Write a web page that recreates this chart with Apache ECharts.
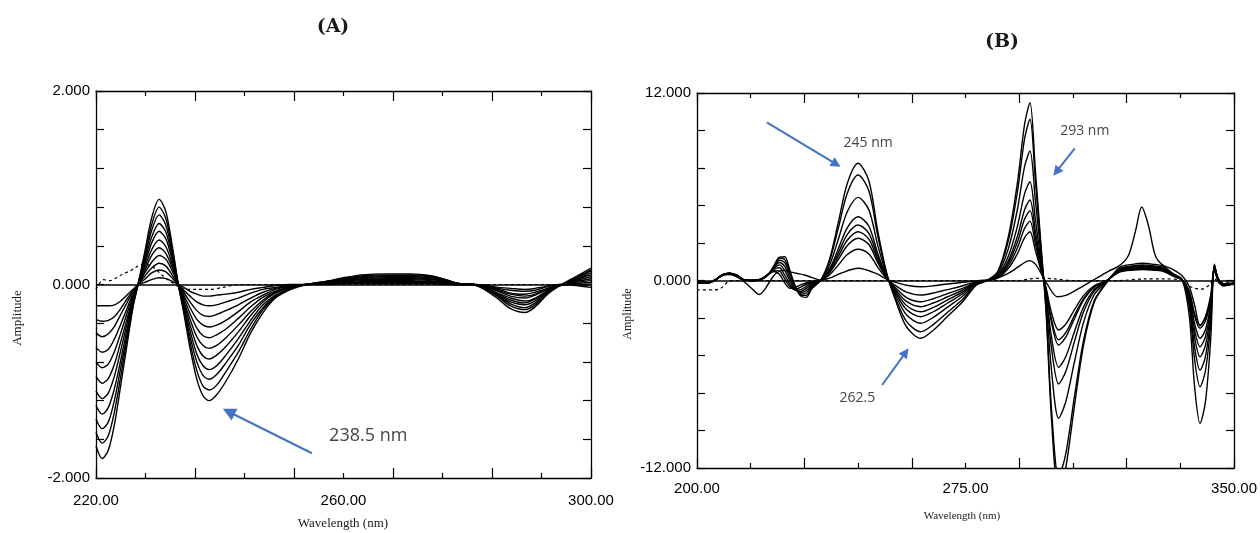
<!DOCTYPE html>
<html>
<head>
<meta charset="utf-8">
<script src="https://cdn.jsdelivr.net/npm/echarts@6/dist/echarts.min.js"></script>
<style>
  html, body { margin: 0; padding: 0; background: #fff; }
  #chart { width: 1260px; height: 533px; }
</style>
</head>
<body>
<div id="chart"></div>
<script>
// ---------------- Panel (A): derivative spectra, 220–300 nm ----------------
const WL_A = [220, 221, 222, 223, 224, 225, 226, 226.8, 227.8, 229, 230.2, 231.3, 232.4, 233.3,
  234.2, 235.2, 236.3, 237.3, 238.3, 239.5, 241, 243, 245, 247, 249, 251.5, 254,
  257, 260, 263, 267, 271, 274, 276.5, 278.5, 281,
  283, 285, 287, 289.3, 291, 293, 295, 297.5, 300];

const A1 = [-0.22, -0.22, -0.22, -0.21, -0.17, -0.11, -0.05, 0, 0.02, 0.05, 0.07, 0.06, 0.03, 0,
  -0.03, -0.07, -0.10, -0.12, -0.12, -0.11, -0.10, -0.08, -0.05, -0.03, -0.01, 0.00, 0,
  0.00, 0.01, 0.01, 0.01, 0.01, 0.01, 0.00, 0.00, 0,
  -0.01, -0.03, -0.04, -0.05, -0.04, -0.02, 0.00, -0.01, -0.03];
const A2 = [-0.36, -0.38, -0.37, -0.33, -0.25, -0.15, -0.06, 0, 0.05, 0.12, 0.15, 0.13, 0.06, 0,
  -0.06, -0.12, -0.18, -0.21, -0.22, -0.21, -0.18, -0.14, -0.09, -0.05, -0.03, -0.01, 0,
  0.01, 0.01, 0.02, 0.02, 0.02, 0.02, 0.01, 0.00, 0,
  -0.01, -0.04, -0.06, -0.07, -0.06, -0.02, 0.00, 0.00, 0.00];
const A3 = [-0.50, -0.54, -0.51, -0.43, -0.31, -0.19, -0.07, 0, 0.08, 0.17, 0.22, 0.19, 0.09, 0,
  -0.08, -0.18, -0.27, -0.32, -0.33, -0.31, -0.27, -0.21, -0.14, -0.08, -0.04, -0.01, 0,
  0.01, 0.02, 0.03, 0.03, 0.03, 0.03, 0.01, 0.00, 0,
  -0.02, -0.05, -0.09, -0.10, -0.08, -0.04, -0.01, 0.01, 0.02];
const A4 = [-0.65, -0.70, -0.67, -0.56, -0.41, -0.25, -0.09, 0, 0.11, 0.23, 0.30, 0.26, 0.13, 0,
  -0.11, -0.24, -0.36, -0.42, -0.44, -0.42, -0.37, -0.28, -0.18, -0.11, -0.05, -0.02, 0,
  0.01, 0.02, 0.04, 0.04, 0.04, 0.03, 0.02, 0.00, 0,
  -0.02, -0.06, -0.10, -0.12, -0.10, -0.04, -0.01, 0.02, 0.04];
const A5 = [-0.80, -0.86, -0.82, -0.69, -0.50, -0.30, -0.11, 0, 0.13, 0.30, 0.38, 0.32, 0.16, 0,
  -0.14, -0.30, -0.45, -0.53, -0.55, -0.52, -0.46, -0.35, -0.23, -0.13, -0.07, -0.02, 0,
  0.02, 0.03, 0.05, 0.05, 0.05, 0.04, 0.02, 0.00, 0,
  -0.03, -0.07, -0.12, -0.14, -0.11, -0.05, -0.01, 0.03, 0.06];
const A6 = [-0.95, -1.02, -0.97, -0.82, -0.59, -0.36, -0.13, 0, 0.16, 0.36, 0.46, 0.39, 0.19, 0,
  -0.17, -0.36, -0.54, -0.63, -0.66, -0.63, -0.55, -0.42, -0.28, -0.16, -0.08, -0.03, 0,
  0.02, 0.04, 0.05, 0.06, 0.06, 0.05, 0.03, 0.00, 0,
  -0.03, -0.09, -0.14, -0.17, -0.14, -0.06, -0.01, 0.04, 0.08];
const A7 = [-1.10, -1.18, -1.12, -0.94, -0.68, -0.41, -0.15, 0, 0.19, 0.43, 0.55, 0.47, 0.23, 0,
  -0.19, -0.42, -0.63, -0.74, -0.77, -0.73, -0.64, -0.49, -0.32, -0.18, -0.09, -0.03, 0,
  0.02, 0.04, 0.06, 0.07, 0.07, 0.06, 0.03, 0.01, 0,
  -0.04, -0.10, -0.16, -0.19, -0.15, -0.07, -0.01, 0.05, 0.10];
const A8 = [-1.25, -1.34, -1.27, -1.07, -0.78, -0.47, -0.17, 0, 0.22, 0.49, 0.63, 0.54, 0.26, 0,
  -0.22, -0.48, -0.72, -0.84, -0.88, -0.84, -0.73, -0.56, -0.37, -0.21, -0.11, -0.04, 0,
  0.02, 0.05, 0.07, 0.08, 0.08, 0.07, 0.04, 0.01, 0,
  -0.04, -0.11, -0.18, -0.21, -0.17, -0.07, -0.01, 0.05, 0.12];
const A9 = [-1.39, -1.49, -1.42, -1.19, -0.86, -0.52, -0.19, 0, 0.25, 0.56, 0.72, 0.61, 0.30, 0,
  -0.25, -0.54, -0.80, -0.94, -0.98, -0.93, -0.81, -0.63, -0.41, -0.24, -0.12, -0.04, 0,
  0.03, 0.05, 0.08, 0.09, 0.09, 0.08, 0.04, 0.01, 0,
  -0.05, -0.12, -0.20, -0.24, -0.19, -0.08, -0.01, 0.06, 0.14];
const A10 = [-1.53, -1.64, -1.56, -1.31, -0.95, -0.57, -0.21, 0, 0.28, 0.62, 0.80, 0.68, 0.34, 0,
  -0.27, -0.60, -0.89, -1.05, -1.09, -1.04, -0.90, -0.70, -0.46, -0.26, -0.13, -0.04, 0,
  0.03, 0.06, 0.09, 0.10, 0.10, 0.09, 0.05, 0.01, 0,
  -0.05, -0.13, -0.22, -0.26, -0.21, -0.09, -0.01, 0.07, 0.15];
const A11 = [-1.67, -1.80, -1.71, -1.44, -1.04, -0.63, -0.23, 0, 0.31, 0.69, 0.88, 0.75, 0.37, 0,
  -0.30, -0.66, -0.98, -1.15, -1.20, -1.14, -1.00, -0.77, -0.50, -0.29, -0.14, -0.05, 0,
  0.03, 0.07, 0.10, 0.11, 0.11, 0.09, 0.05, 0.01, 0,
  -0.06, -0.15, -0.25, -0.29, -0.23, -0.10, -0.01, 0.08, 0.17];

// dashed reference trace in (A)
const A_DASH_WL = [220, 221.2, 222.3, 223.3, 224.4, 225.5, 226.5, 227.5, 228.6, 229.6, 230.6, 231.6, 232.5, 233.3, 234.5, 236.5, 238.5, 240.5, 243, 300];
const A_DASH = [-0.05, 0.05, 0.04, 0.07, 0.11, 0.14, 0.18, 0.21, 0.20, 0.16, 0.10, 0.05, 0.01, -0.02, -0.05, -0.05, -0.05, -0.03, 0, 0];

// axis ranges and labelled ticks of (A)
const A_X_RANGE = [220, 300];
const A_Y_RANGE = [-2, 2];
const A_X_LABELS = [220, 260, 300];
const A_Y_LABELS = [-2, 0, 2];

// ---------------- Panel (B): derivative spectra, 200–350 nm ----------------
const WL_B = [200, 203, 205, 207, 209, 211, 213,
  216, 218, 220, 221.5, 223, 224.5, 226, 227.5, 229, 230.5, 232,
  234.5,
  237, 239.5, 242, 245, 248, 250.5, 253,
  255.5, 258.5, 262.5, 266, 270, 274, 278,
  281, 284, 287, 289.5, 291.5, 293, 294.5, 296,
  297.5, 299, 301, 303, 305.5, 308, 311, 314,
  318, 322, 324.5, 327, 330, 333, 335.5,
  337.5, 339, 340.5, 342, 343.5,
  344.5, 345.5, 347, 350];

const B1 = [-0.15, -0.15, 0.00, 0.35, 0.45, 0.35, 0.05,
  0, 0.12, 0.42, 0.58, 0.40, -0.15, -0.50, -0.42, -0.28, -0.16, -0.07,
  0,
  0.36, 1.00, 1.66, 2.00, 1.70, 0.84, 0.12,
  -0.33, -0.74, -0.93, -0.80, -0.58, -0.35, -0.07,
  0, 0.16, 0.78, 1.72, 2.75, 3.12, 1.93, 0.69,
  -0.48, -2.06, -3.17, -2.79, -1.84, -0.95, -0.32, -0.06,
  0.53, 0.67, 0.70, 0.67, 0.60, 0.28, 0.04,
  -0.71, -2.14, -2.85, -2.42, -1.14,
  0.6, 0.1, -0.2, -0.15];
const B2 = [-0.12, -0.16, 0.02, 0.33, 0.44, 0.36, 0.06,
  0, 0.11, 0.42, 0.65, 0.62, 0.10, -0.40, -0.58, -0.42, -0.25, -0.10,
  0,
  0.49, 1.35, 2.24, 2.70, 2.30, 1.13, 0.16,
  -0.48, -1.09, -1.36, -1.17, -0.84, -0.52, -0.11,
  0, 0.19, 0.95, 2.09, 3.34, 3.80, 2.36, 0.84,
  -0.57, -2.47, -3.80, -3.34, -2.20, -1.14, -0.38, -0.08,
  0.56, 0.71, 0.75, 0.71, 0.64, 0.30, 0.04,
  -0.77, -2.30, -3.06, -2.60, -1.22,
  0.7, 0.1, -0.3, -0.2];
const B3 = [-0.15, -0.14, 0.00, 0.36, 0.46, 0.34, 0.04,
  0, 0.10, 0.42, 0.72, 0.82, 0.35, -0.25, -0.62, -0.58, -0.38, -0.15,
  0,
  0.56, 1.56, 2.59, 3.12, 2.65, 1.31, 0.19,
  -0.59, -1.34, -1.68, -1.44, -1.04, -0.64, -0.13,
  0, 0.22, 1.12, 2.46, 3.93, 4.47, 2.77, 0.98,
  -0.62, -2.68, -4.13, -3.63, -2.40, -1.24, -0.41, -0.08,
  0.60, 0.76, 0.80, 0.76, 0.68, 0.32, 0.04,
  -0.93, -2.78, -3.70, -3.15, -1.48,
  0.8, 0.15, -0.25, -0.2];
const B4 = [-0.14, -0.15, 0.01, 0.34, 0.45, 0.35, 0.05,
  0, 0.09, 0.41, 0.78, 1.00, 0.65, -0.05, -0.60, -0.70, -0.50, -0.22,
  0,
  0.64, 1.78, 2.95, 3.55, 3.02, 1.49, 0.21,
  -0.70, -1.60, -2.00, -1.72, -1.24, -0.76, -0.16,
  0, 0.26, 1.29, 2.83, 4.53, 5.15, 3.19, 1.13,
  -0.83, -3.61, -5.55, -4.88, -3.22, -1.67, -0.56, -0.11,
  0.64, 0.81, 0.85, 0.81, 0.72, 0.34, 0.04,
  -1.06, -3.18, -4.24, -3.60, -1.70,
  0.85, 0.1, -0.3, -0.2];
const B5 = [-0.16, -0.15, 0.00, 0.35, 0.46, 0.35, 0.05,
  0, 0.08, 0.41, 0.82, 1.15, 0.90, 0.15, -0.50, -0.78, -0.65, -0.30,
  0,
  0.73, 2.04, 3.39, 4.08, 3.47, 1.71, 0.24,
  -0.81, -1.86, -2.32, -2.00, -1.44, -0.88, -0.19,
  0, 0.32, 1.58, 3.48, 5.56, 6.32, 3.92, 1.39,
  -0.99, -4.30, -6.62, -5.83, -3.84, -1.99, -0.66, -0.13,
  0.68, 0.86, 0.90, 0.86, 0.77, 0.36, 0.05,
  -1.22, -3.66, -4.88, -4.15, -1.95,
  0.9, 0.15, -0.3, -0.25];
const B6 = [-0.14, -0.16, 0.01, 0.36, 0.45, 0.34, 0.04,
  0, 0.07, 0.41, 0.86, 1.30, 1.15, 0.35, -0.45, -0.88, -0.80, -0.38,
  0,
  0.96, 2.66, 4.42, 5.32, 4.52, 2.23, 0.32,
  -0.96, -2.19, -2.74, -2.36, -1.70, -1.04, -0.22,
  0, 0.41, 2.07, 4.56, 7.30, 8.29, 5.14, 1.82,
  -1.32, -5.73, -8.82, -7.76, -5.12, -2.65, -0.88, -0.18,
  0.71, 0.90, 0.95, 0.90, 0.81, 0.38, 0.05,
  -1.43, -4.30, -5.73, -4.87, -2.29,
  0.95, 0.1, -0.35, -0.2];
const B7 = [-0.15, -0.14, 0.00, 0.35, 0.45, 0.36, 0.05,
  0, 0.06, 0.40, 0.90, 1.42, 1.35, 0.50, -0.42, -0.95, -0.95, -0.48,
  0,
  1.22, 3.38, 5.60, 6.75, 5.74, 2.84, 0.41,
  -1.15, -2.62, -3.28, -2.82, -2.03, -1.25, -0.26,
  0, 0.52, 2.58, 5.68, 9.08, 10.32, 6.40, 2.27,
  -1.89, -8.19, -12.6, -11.09, -7.31, -3.78, -1.26, -0.25,
  0.75, 0.95, 1.00, 0.95, 0.85, 0.40, 0.05,
  -1.70, -5.10, -6.80, -5.78, -2.72,
  1.0, 0.15, -0.3, -0.25];
const B8 = [-0.15, -0.15, 0.01, 0.35, 0.46, 0.35, 0.05,
  0, 0.05, 0.40, 0.95, 1.50, 1.52, 0.60, -0.40, -1.00, -1.08, -0.55,
  0,
  1.35, 3.75, 6.23, 7.50, 6.38, 3.15, 0.45,
  -1.30, -2.96, -3.70, -3.18, -2.29, -1.41, -0.30,
  0, 0.57, 2.85, 6.26, 10.01, 11.38, 7.06, 2.50,
  -2.04, -8.84, -13.6, -11.97, -7.89, -4.08, -1.36, -0.27,
  0.83, 1.05, 1.10, 1.05, 0.94, 0.44, 0.06,
  -2.29, -6.86, -9.14, -7.77, -3.66,
  1.05, 0.1, -0.3, -0.2];

// separate trace in (B) with its own band near 324 nm
const B_ALT_WL = [200, 203, 205, 207, 209, 211, 213, 215, 217.4, 219,
  220.5, 222, 224, 226, 228, 230, 232, 234.5, 237, 240,
  245, 250, 253.5, 256, 259, 262.5, 266, 270, 275, 279,
  282, 285, 288, 290.5, 292.8, 294.5, 296.5, 298, 300.6, 303,
  306, 309, 312, 315, 318, 320.5, 322.5, 324.2, 326, 328,
  330, 333, 335.5, 337.5, 339, 340.5, 342, 343.5, 344.5, 346,
  350];
const B_ALT = [-0.1, -0.1, 0.05, 0.3, 0.38, 0.25, -0.05, -0.45, -0.90, -0.55,
  0.0, 0.45, 0.65, 0.55, 0.45, 0.35, 0.2, 0.02, 0.15, 0.45,
  0.78, 0.45, 0.02, -0.15, -0.32, -0.40, -0.34, -0.22, -0.1, 0,
  0.05, 0.25, 0.6, 1.0, 1.27, 1.05, 0.3, -0.3, -1.04, -0.95,
  -0.6, -0.2, 0.2, 0.6, 0.95, 1.6, 3.2, 4.7, 3.6, 1.6,
  1.0, 0.7, 0.3, -0.4, -1.6, -2.9, -2.3, -0.9, 0.8, -0.2,
  -0.2];

// dashed reference trace in (B)
const B_DASH_WL = [200, 205, 207, 208.5, 210, 290, 293, 297, 300, 305, 318, 325, 330, 335, 337, 339, 341, 343, 344.5, 346, 350];
const B_DASH = [-0.6, -0.6, -0.45, -0.1, 0, 0, 0.1, 0.15, 0.1, 0, 0, 0.1, 0.1, 0.05, -0.3, -0.5, -0.55, -0.3, 0.1, -0.1, -0.1];

const B_X_RANGE = [200, 350];
const B_Y_RANGE = [-12, 12];
const B_X_LABELS = [200, 275, 350];
const B_Y_LABELS = [-12, 0, 12];

// ---------------- chart construction ----------------
const INK = '#000';
const LABEL_FONT = { fontFamily: '"Liberation Sans", Arial, sans-serif', fontSize: 15, color: '#000' };

function pairs(xs, ys) { return xs.map((x, i) => [x, ys[i]]); }
function near(v, list) { return list.some(t => Math.abs(t - v) < 1e-6); }

// x axes of one panel: framed bottom axis, mirrored top axis, label-only axis
function xAxesFor(grid, range, major, labelStep, labels, margin) {
  const frame = (pos) => ({
    gridIndex: grid, type: 'value', position: pos, min: range[0], max: range[1], interval: major,
    axisLine: { show: true, onZero: false, lineStyle: { color: INK, width: 1.3 } },
    axisTick: { show: true, inside: true, length: 10, lineStyle: { color: INK, width: 1.2 } },
    minorTick: { show: true, splitNumber: 2, length: 5, lineStyle: { color: INK, width: 1.2 } },
    axisLabel: { show: false }, splitLine: { show: false }
  });
  return [frame('bottom'), frame('top'), {
    gridIndex: grid, type: 'value', position: 'bottom', min: range[0], max: range[1], interval: labelStep,
    axisLine: { show: false }, axisTick: { show: false }, splitLine: { show: false },
    axisLabel: Object.assign({ show: true, margin: margin,
      formatter: v => near(v, labels) ? v.toFixed(2) : '' }, LABEL_FONT)
  }];
}

function yAxesFor(grid, range, step, labels) {
  const base = (pos, showLabel) => ({
    gridIndex: grid, type: 'value', position: pos, min: range[0], max: range[1], interval: step,
    axisLine: { show: true, onZero: false, lineStyle: { color: INK, width: 1.3 } },
    axisTick: { show: true, inside: true, length: 8, lineStyle: { color: INK, width: 1.2 } },
    splitLine: { show: false },
    axisLabel: Object.assign({ show: showLabel, margin: 6,
      formatter: v => near(v, labels) ? (Math.abs(v) < 1e-9 ? 0 : v).toFixed(3) : '' }, LABEL_FONT)
  });
  return [base('left', true), base('right', false)];
}

function curve(xIdx, yIdx, xs, ys, extra) {
  return Object.assign({
    type: 'line', xAxisIndex: xIdx, yAxisIndex: yIdx, data: pairs(xs, ys),
    showSymbol: false, symbol: 'none', smooth: 0.3, clip: true, silent: true,
    lineStyle: { color: INK, width: 1.4 }, z: 3
  }, extra || {});
}

const zeroLine = {
  silent: true, symbol: 'none', label: { show: false },
  lineStyle: { color: INK, width: 1.6, type: 'solid' }, data: [{ yAxis: 0 }]
};

const seriesA = [A1, A2, A3, A4, A5, A6, A7, A8, A9, A10, A11].map(v => curve(0, 0, WL_A, v));
seriesA.push(curve(0, 0, A_DASH_WL, A_DASH, { lineStyle: { color: INK, width: 1.2, type: [3, 3] } }));
seriesA[0].markLine = zeroLine;

const seriesB = [B1, B2, B3, B4, B5, B6, B7, B8].map(v => curve(3, 2, WL_B, v));
seriesB.push(curve(3, 2, B_ALT_WL, B_ALT));
seriesB.push(curve(3, 2, B_DASH_WL, B_DASH, { lineStyle: { color: INK, width: 1.2, type: [3, 3] } }));
seriesB[0].markLine = zeroLine;

const chart = echarts.init(document.getElementById('chart'), null, { renderer: 'canvas' });
chart.setOption({
  animation: false,
  backgroundColor: '#fff',
  grid: [
    { left: 96, top: 91, width: 495, height: 387, containLabel: false },
    { left: 697, top: 93, width: 541, height: 375, containLabel: false }
  ],
  xAxis: [
    ...xAxesFor(0, A_X_RANGE, 16, 40, A_X_LABELS, 15),
    ...xAxesFor(1, B_X_RANGE, 30, 75, B_X_LABELS, 13)
  ],
  yAxis: [
    ...yAxesFor(0, A_Y_RANGE, 0.4, A_Y_LABELS),
    ...yAxesFor(1, B_Y_RANGE, 2.4, B_Y_LABELS)
  ],
  series: [...seriesA, ...seriesB]
});

// ---------------- titles, axis names and callouts ----------------
const ARROW_BLUE = '#4472C4';
const NOTE_GREY = '#444';

// callout arrows: [tail wavelength, tail value, tip wavelength, tip value]
const A_ARROWS = [[254.9, -1.744, 240.5, -1.285]];
const B_ARROWS = [[219.5, 10.12, 240.1, 7.28], [251.7, -6.69, 259.1, -4.34], [305.5, 8.46, 299.5, 6.71]];
// callout texts: [text, wavelength, value, font size]
const A_NOTES = [['238.5 nm', 264.0, -1.56, 18]];
const B_NOTES = [['245 nm', 247.8, 8.82, 14], ['262.5', 244.8, -7.50, 14], ['293 nm', 308.3, 9.57, 14]];

function arrowShapes(grid, a, head, half) {
  const p0 = chart.convertToPixel({ gridIndex: grid }, [a[0], a[1]]);
  const p1 = chart.convertToPixel({ gridIndex: grid }, [a[2], a[3]]);
  const dx = p1[0] - p0[0], dy = p1[1] - p0[1];
  const len = Math.hypot(dx, dy), ux = dx / len, uy = dy / len;
  const bx = p1[0] - ux * head, by = p1[1] - uy * head;
  return [
    { type: 'line', silent: true, z: 10,
      shape: { x1: p0[0], y1: p0[1], x2: bx + ux * 2, y2: by + uy * 2 },
      style: { stroke: ARROW_BLUE, lineWidth: 2 } },
    { type: 'polygon', silent: true, z: 10,
      shape: { points: [[p1[0], p1[1]], [bx - uy * half, by + ux * half], [bx + uy * half, by - ux * half]] },
      style: { fill: ARROW_BLUE } }
  ];
}

function noteShape(grid, n) {
  const p = chart.convertToPixel({ gridIndex: grid }, [n[1], n[2]]);
  return { type: 'text', silent: true, z: 10, x: p[0], y: p[1],
    style: { text: n[0], fill: NOTE_GREY, font: n[3] + 'px "Open Sans", "Liberation Sans", sans-serif',
      textAlign: 'center', textVerticalAlign: 'middle' } };
}

function plainText(text, x, y, font, rotate) {
  return { type: 'text', silent: true, x: x, y: y, rotation: rotate ? Math.PI / 2 : 0,
    style: { text: text, font: font, fill: '#1a1a1a', textAlign: 'center', textVerticalAlign: 'middle' } };
}

const graphics = [
  plainText('(A)', 333, 27, 'bold 19px "DejaVu Serif", serif'),
  plainText('(B)', 1002, 42, 'bold 19px "DejaVu Serif", serif'),
  plainText('Wavelength (nm)', 343, 524, '13px "Liberation Serif", "Times New Roman", serif'),
  plainText('Wavelength (nm)', 962, 516, '11px "Liberation Serif", "Times New Roman", serif'),
  plainText('Amplitude', 18, 318, '13px "Liberation Serif", "Times New Roman", serif', true),
  plainText('Amplitude', 628, 314, '12px "Liberation Serif", "Times New Roman", serif', true)
];
A_ARROWS.forEach(a => graphics.push(...arrowShapes(0, a, 13, 6.5)));
B_ARROWS.forEach(a => graphics.push(...arrowShapes(1, a, 10, 5)));
A_NOTES.forEach(n => graphics.push(noteShape(0, n)));
B_NOTES.forEach(n => graphics.push(noteShape(1, n)));

chart.setOption({ graphic: graphics });
</script>
</body>
</html>
